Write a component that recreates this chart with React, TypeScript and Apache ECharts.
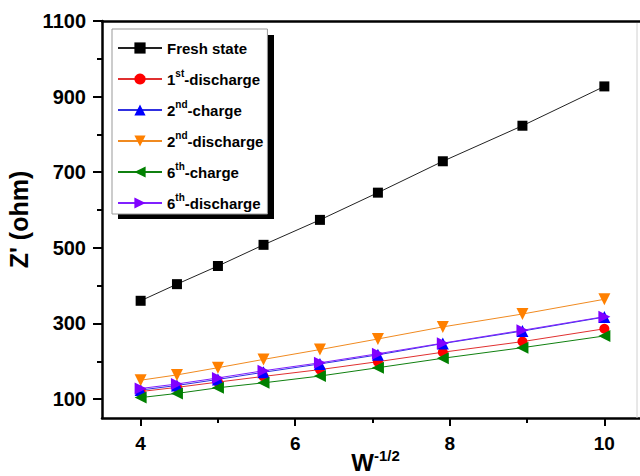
import React, { useEffect, useRef } from "react";
import * as echarts from "echarts";

const xValues = [4, 4.47, 5, 5.59, 6.32, 7.07, 7.91, 8.94, 10];
const freshState = [360, 404, 452, 508, 574, 646, 729, 823, 927];
const discharge1 = [120, 131, 145, 160, 178, 199, 224, 252, 286];
const charge2 = [124, 136, 152, 171, 193, 217, 247, 280, 317];
const discharge2 = [150, 164, 183, 205, 231, 259, 291, 325, 364];
const charge6 = [104, 115, 130, 143, 161, 183, 208, 236, 267];
const discharge6 = [128, 140, 156, 175, 196, 220, 248, 282, 318];

const seriesNames = ["Fresh state", "1st-discharge", "2nd-charge", "2nd-discharge", "6th-charge", "6th-discharge"];
const legendLabels: Record<string, string> = {
  "Fresh state": "{n|Fresh state}",
  "1st-discharge": "{n|1}{s|st}{n|-discharge}",
  "2nd-charge": "{n|2}{s|nd}{n|-charge}",
  "2nd-discharge": "{n|2}{s|nd}{n|-discharge}",
  "6th-charge": "{n|6}{s|th}{n|-charge}",
  "6th-discharge": "{n|6}{s|th}{n|-discharge}",
};
const yLabelValues = [100, 300, 500, 700, 900, 1100];
const yMinorValues = [200, 400, 600, 800, 1000];
const xLabelValues = [4, 6, 8, 10];
const xMinorValues = [5, 7, 9];

const FONT = "'Liberation Sans', Arial, sans-serif";

export default function App() {
  const ref = useRef<HTMLDivElement>(null);
  useEffect(() => {
    if (!ref.current) return;
    const chart = echarts.init(ref.current, null, { renderer: "svg" });
    const pair = (ys: number[]) => xValues.map((x, i) => [x, ys[i]]);
    const mk = (name: string, data: number[], color: string, lineColor: string, symbol: string, size: number, rot: number) => ({
      name,
      type: "line",
      data: pair(data),
      symbol,
      symbolSize: size,
      symbolRotate: rot,
      itemStyle: { color },
      lineStyle: { color: lineColor, width: 1 },
    });
    const axisLine = { show: true, lineStyle: { color: "#000", width: 2.5 } };
    chart.setOption({
      animation: false,
      backgroundColor: "#fff",
      textStyle: { fontFamily: FONT },
      grid: { left: 102, top: 21, width: 541, height: 397, outerBoundsMode: "none", containLabel: false },
      legend: {
        data: seriesNames,
        orient: "vertical",
        left: 112,
        top: 29,
        padding: [8, 4, 0, 5],
        itemWidth: 44,
        itemHeight: 14,
        itemGap: 9,
        backgroundColor: "#fff",
        borderColor: "#999",
        borderWidth: 1,
        borderRadius: 0,
        z: 5,
        formatter: (name: string) => legendLabels[name],
        textStyle: {
          fontFamily: FONT,
          lineHeight: 22,
          rich: {
            n: { fontFamily: FONT, fontSize: 15, fontWeight: "bold", color: "#000", lineHeight: 22, verticalAlign: "middle" },
            s: { fontFamily: FONT, fontSize: 10, fontWeight: "bold", color: "#000", lineHeight: 8, verticalAlign: "top" },
          },
        },
      },
      graphic: [
        { type: "rect", left: 118, top: 35, shape: { width: 156, height: 184 }, style: { fill: "#000" }, z: 3 },
        { type: "line", shape: { x1: 637, y1: 23, x2: 637, y2: 418 }, style: { stroke: "#d0d0d0", lineWidth: 1 }, z: 1 },
      ],
      xAxis: [
        {
          type: "value",
          min: 3.5,
          max: 10.5,
          position: "bottom",
          axisLine,
          splitLine: { show: false },
          axisTick: { show: true, length: 8, customValues: xLabelValues, lineStyle: { width: 2, color: "#000" } },
          axisLabel: { customValues: xLabelValues, margin: 16, fontSize: 19, fontWeight: "bold", color: "#000", fontFamily: FONT, formatter: (v: number) => String(v) },
          name: "{w|W}{s|-1/2}",
          nameLocation: "middle",
          nameGap: 30,
          nameMoveOverlap: false,
          nameTextStyle: {
            padding: [0, 0, 0, 6],
            rich: {
              w: { fontFamily: FONT, fontSize: 24, fontWeight: "bold", color: "#000", lineHeight: 26, verticalAlign: "bottom" },
              s: { fontFamily: FONT, fontSize: 15, fontWeight: "bold", color: "#000", lineHeight: 14, verticalAlign: "top" },
            },
          },
        },
        {
          type: "value",
          min: 3.5,
          max: 10.5,
          position: "bottom",
          axisLine: { show: false },
          splitLine: { show: false },
          axisTick: { show: true, length: 5, customValues: xMinorValues, lineStyle: { width: 2, color: "#000" } },
          axisLabel: { show: false },
        },
        {
          type: "value",
          min: 3.5,
          max: 10.5,
          position: "top",
          axisLine,
          splitLine: { show: false },
          axisTick: { show: false },
          axisLabel: { show: false },
        },
      ],
      yAxis: [
        {
          type: "value",
          min: 50,
          max: 1100,
          position: "left",
          axisLine,
          splitLine: { show: false },
          axisTick: { show: true, length: 9, customValues: yLabelValues, lineStyle: { width: 2, color: "#000" } },
          axisLabel: { customValues: yLabelValues, margin: 16, fontSize: 20, fontWeight: "bold", color: "#000", fontFamily: FONT, formatter: (v: number) => String(v) },
          name: "Z' (ohm)",
          nameLocation: "middle",
          nameRotate: 90,
          nameGap: 64,
          nameTextStyle: { fontFamily: FONT, fontSize: 25, fontWeight: "bold", color: "#000" },
        },
        {
          type: "value",
          min: 50,
          max: 1100,
          position: "left",
          axisLine: { show: false },
          splitLine: { show: false },
          axisTick: { show: true, length: 5, customValues: yMinorValues, lineStyle: { width: 2, color: "#000" } },
          axisLabel: { show: false },
        },
      ],
      series: [
        mk("Fresh state", freshState, "#000000", "#222222", "rect", 10, 0),
        mk("1st-discharge", discharge1, "#ff0000", "#e03030", "circle", 10, 0),
        mk("2nd-charge", charge2, "#0000ff", "#3030e0", "triangle", 12, 0),
        mk("2nd-discharge", discharge2, "#ff8000", "#f08a20", "triangle", 12, 180),
        mk("6th-charge", charge6, "#008000", "#108010", "triangle", 12, 90),
        mk("6th-discharge", discharge6, "#8000ff", "#8020ff", "triangle", 12, -90),
      ],
    });
    return () => chart.dispose();
  }, []);
  return <div ref={ref} style={{ position: "fixed", left: 0, top: 0, width: 640, height: 476 }} />;
}
